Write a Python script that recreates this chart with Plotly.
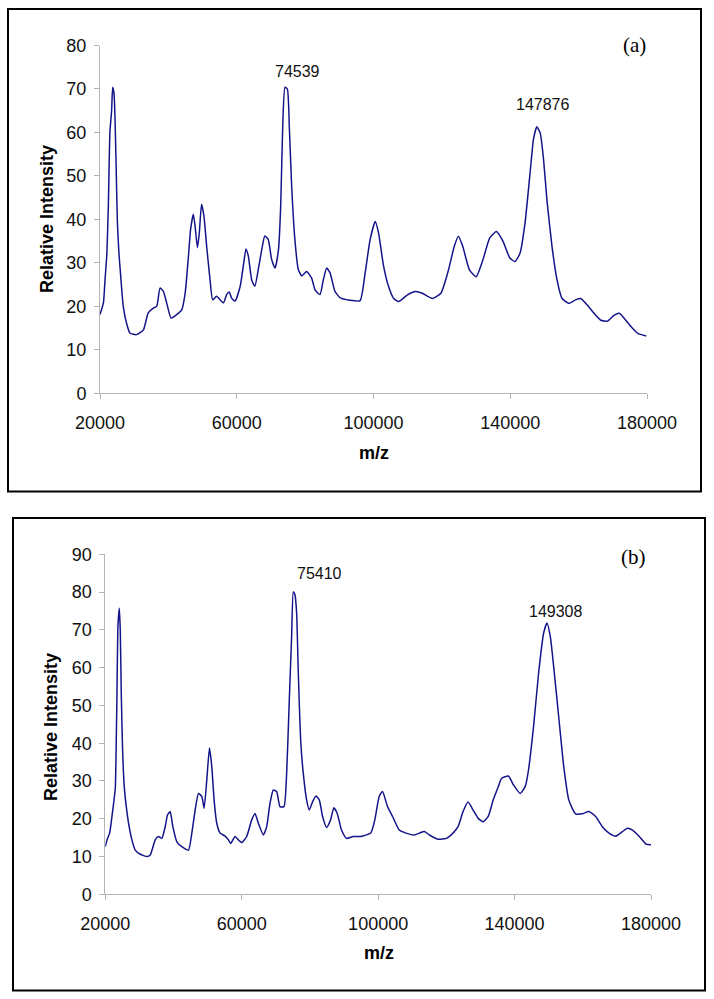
import plotly.graph_objects as go

W, H = 714, 999

# ---- Data: panel (a) ----
mz_a = [20000, 21000, 21460, 22000, 22440, 22900, 23400, 23700, 24100, 24400, 24700, 25100, 25560, 26050,
        26800, 27800, 28800, 30700, 32700, 34100, 35600, 36600, 37550, 38500, 39500, 40800, 42400, 43900,
        44900, 45800, 46500, 47300, 47800, 48500, 49060, 49700, 50400, 51200, 52200, 52950, 54100, 56100,
        57050, 57800, 58500, 59500, 61000, 61900, 62700, 63400, 64400, 65300, 66300, 67300, 68200, 69200,
        70200, 71200, 72200, 72850, 73400, 74100, 74800, 75400, 76060, 77000, 78000, 79000, 80450, 81900,
        82900, 84350, 85300, 86300, 87300, 88700, 90200, 93100, 96060, 97540, 99000, 100500, 101500,
        102960, 104430, 105910, 107390, 109850, 112310, 114280, 117240, 119700, 121670, 123640, 124820,
        126100, 128070, 130040, 132010, 133980, 135950, 137920, 139890, 141370, 142850, 144330, 145800,
        146790, 147770, 148760, 149740, 150730, 152210, 153680, 155160, 157130, 159100, 160580, 162550,
        164520, 166490, 168460, 170430, 171910, 173380, 175350, 177320, 179780]
int_a = [18.1, 20.8, 26.0, 32.0, 43.0, 60.0, 65.0, 70.4, 69.0, 63.0, 53.0, 39.0, 32.0, 27.0,
         20.0, 16.0, 13.8, 13.5, 14.6, 18.5, 19.6, 20.0, 24.2, 23.5, 20.8, 17.3, 18.1, 19.2,
         23.0, 30.8, 37.7, 41.2, 38.5, 33.5, 37.0, 43.5, 40.8, 33.8, 26.0, 21.5, 22.3, 20.8,
         22.7, 23.3, 21.9, 21.2, 24.6, 29.2, 33.2, 31.5, 26.0, 24.6, 28.5, 33.0, 36.2, 35.4,
         30.8, 28.8, 33.0, 43.0, 60.0, 70.4, 70.0, 60.8, 47.7, 35.4, 28.5, 27.0, 28.0, 26.5,
         23.8, 22.7, 26.0, 28.8, 27.7, 23.5, 22.0, 21.4, 21.3, 27.6, 35.3, 39.5, 36.8,
         29.2, 24.5, 21.8, 21.1, 22.6, 23.4, 23.0, 21.8, 23.0, 27.6, 33.8, 36.1,
         33.8, 28.4, 26.8, 30.7, 35.7, 37.2, 34.9, 31.1, 30.3, 32.2, 39.2, 50.7,
         58.4, 61.3, 59.9, 53.8, 44.5, 33.8, 26.1, 21.8, 20.7, 21.5, 21.8, 20.3,
         18.4, 16.8, 16.6, 18.0, 18.4, 17.2, 15.3, 13.8, 13.2]

# ---- Data: panel (b) ----
mz_b = [20000, 20490, 21270, 21950, 22440, 22930, 23220, 23410, 23710, 24100, 24390, 24680, 25070, 25560,
        26150, 26830, 27800, 28780, 30240, 32200, 33170, 34630, 35610, 36590, 37560, 38240, 39020, 39800,
        40980, 42440, 44390, 45370, 46340, 47320, 48290, 48980, 49760, 50540, 51220, 51900, 52680, 53660,
        55120, 56100, 56780, 58050, 59020, 60000, 61460, 62930, 63900, 64880, 66340, 67320, 68290, 69270,
        70240, 71220, 72390, 73170, 73950, 74630, 75120, 75610, 76100, 76590, 77270, 78050, 79020, 79800,
        80780, 81760, 82730, 83710, 84880, 86050, 87020, 88000, 89270, 90730, 92680, 94880, 97830, 99020,
        100300, 101280, 102760, 104230, 106200, 108170, 110630, 112100, 113580, 115050, 117520, 119970,
        121940, 123420, 124900, 126370, 127850, 129320, 130800, 132280, 133750, 135230, 136210, 138180,
        139650, 141620, 143100, 144080, 145560, 147040, 148510, 149500, 150480, 151460, 152940, 154420,
        155890, 157860, 159830, 161800, 163770, 165730, 167700, 169670, 171640, 173110, 174590, 176560,
        178530, 180000]
int_b = [12.6, 14.4, 16.2, 20.6, 24.1, 28.0, 40.9, 52.3, 70.9, 75.7, 70.0, 53.2, 38.2, 28.5,
         23.2, 18.8, 14.4, 11.7, 10.6, 10.0, 10.4, 14.4, 15.3, 14.8, 17.9, 21.0, 21.9, 17.9,
         13.9, 12.6, 11.7, 16.2, 22.3, 26.7, 25.9, 22.8, 30.3, 38.7, 33.8, 25.0, 18.8, 16.2,
         15.4, 14.4, 13.5, 15.3, 14.4, 13.7, 15.3, 19.7, 21.4, 18.8, 15.7, 17.9, 24.1, 27.6,
         27.2, 23.2, 23.2, 32.0, 51.5, 68.2, 80.1, 79.3, 74.4, 58.5, 40.9, 32.0, 25.0, 22.3,
         24.5, 26.0, 25.0, 20.6, 17.7, 19.7, 22.9, 21.4, 17.0, 14.8, 15.3, 15.3, 16.2, 19.7,
         25.9, 27.2, 23.2, 20.6, 17.0, 16.2, 15.7, 16.2, 16.6, 15.7, 14.6, 14.8,
         16.2, 17.9, 21.9, 24.4, 22.3, 20.1, 19.2, 20.6, 25.0, 28.5, 30.7, 31.3,
         29.0, 26.7, 28.5, 32.9, 44.4, 58.5, 69.1, 71.8, 68.2, 60.3, 47.0, 33.8,
         25.0, 21.3, 21.3, 21.9, 20.6, 17.9, 16.2, 15.4, 16.6, 17.5, 17.0, 15.3,
         13.3, 13.1]

peak_labels_a = ["74539", "147876"]
peak_labels_b = ["75410", "149308"]
x_ticks = [20000, 60000, 100000, 140000, 180000]
y_ticks_a = [0, 10, 20, 30, 40, 50, 60, 70, 80]
y_ticks_b = [0, 10, 20, 30, 40, 50, 60, 70, 80, 90]

LINE = "#14148a"
AX = "#b4b4b4"
FONT = "Liberation Sans, Arial, sans-serif"


def px(x):
    return x / W


def py(y):
    return 1 - y / H


fig = go.Figure()
fig.add_trace(go.Scatter(x=mz_a, y=int_a, mode="lines",
                         line=dict(color=LINE, width=1.5, shape="spline", smoothing=0.5),
                         xaxis="x", yaxis="y", showlegend=False))
fig.add_trace(go.Scatter(x=mz_b, y=int_b, mode="lines",
                         line=dict(color=LINE, width=1.5, shape="spline", smoothing=0.5),
                         xaxis="x2", yaxis="y2", showlegend=False))

axcommon = dict(showgrid=False, zeroline=False, showline=True, linecolor=AX, linewidth=1,
                ticks="outside", ticklen=5, tickcolor=AX, tickwidth=1, automargin=False,
                tickfont=dict(family=FONT, size=18, color="#111111"), fixedrange=True)

fig.update_layout(
    template="none",
    width=W, height=H, margin=dict(l=0, r=0, t=0, b=0, pad=0), autosize=False,
    paper_bgcolor="white", plot_bgcolor="white",
    xaxis=dict(domain=[px(100), px(647)], range=[20000, 180000], tickvals=x_ticks,
               ticktext=[str(v) for v in x_ticks], anchor="y", ticklabelstandoff=8, **axcommon),
    yaxis=dict(domain=[py(393.3), py(45.5)], range=[0, 80], tickvals=y_ticks_a, anchor="x",
               ticklabelstandoff=4, **axcommon),
    xaxis2=dict(domain=[px(105.3), px(651)], range=[20000, 180000], tickvals=x_ticks,
                ticktext=[str(v) for v in x_ticks], anchor="y2", ticklabelstandoff=8, **axcommon),
    yaxis2=dict(domain=[py(894.3), py(554.3)], range=[0, 90], tickvals=y_ticks_b, anchor="x2",
                ticklabelstandoff=4, **axcommon),
    shapes=[
        dict(type="rect", xref="paper", yref="paper", x0=px(8), x1=px(701), y0=py(491.5), y1=py(9),
             line=dict(color="black", width=2)),
        dict(type="rect", xref="paper", yref="paper", x0=px(13), x1=px(705), y0=py(990.5), y1=py(518),
             line=dict(color="black", width=2)),
    ],
)


def note(text, x, y, size, family=FONT, angle=0, color="black"):
    return dict(text=text, xref="paper", yref="paper", x=px(x), y=py(y), xanchor="center",
                yanchor="middle", showarrow=False, textangle=angle,
                font=dict(family=family, size=size, color=color))


SERIF = "Liberation Serif, Times New Roman, serif"
ann = [
    note("<b>Relative Intensity</b>", 47, 219, 18, angle=-90),
    note("<b>m/z</b>", 374, 453, 18),
    note("<b>Relative Intensity</b>", 51, 727, 18, angle=-90),
    note("<b>m/z</b>", 379, 953, 18),
    note("(a)", 634, 45, 21, family=SERIF),
    note("(b)", 633, 557, 21, family=SERIF),
]
for (xp, yp), t in zip([(297, 71.7), (542, 105)], peak_labels_a):
    ann.append(note(t, xp, yp, 16, color="#111111"))
for (xp, yp), t in zip([(319, 573.3), (555, 611.7)], peak_labels_b):
    ann.append(note(t, xp, yp, 16, color="#111111"))
fig.update_layout(annotations=ann)

fig.write_html("out.html", config={"displayModeBar": False},
               post_script="document.body.style.margin='0px';")
